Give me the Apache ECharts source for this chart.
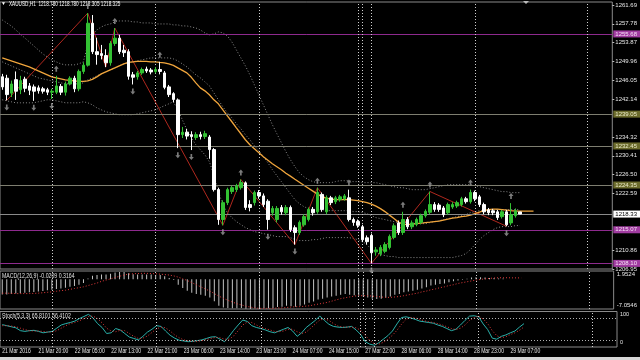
<!DOCTYPE html>
<html><head><meta charset="utf-8">
<script src="https://cdn.jsdelivr.net/npm/echarts@6/dist/echarts.min.js"></script>
<style>html,body{margin:0;padding:0;background:#000;}#c{width:640px;height:360px;}</style>
</head><body><div id="c"></div>
<script>
// ---------- DATA ----------
const symbolTitle = 'XAUUSD,H1  1218.780 1218.780 1218.305 1218.325';
const macdTitle = 'MACD(12,26,9) -0.0209 0.3164';
const stochTitle = 'Stoch(5,3,3) 65.8101 56.4102';

const timeLabels = ['21 Mar 2016','21 Mar 20:00','22 Mar 05:00','22 Mar 13:00','22 Mar 21:00','23 Mar 06:00','23 Mar 14:00','23 Mar 23:00','24 Mar 07:00','24 Mar 15:00','27 Mar 22:00','28 Mar 06:00','28 Mar 14:00','28 Mar 23:00','29 Mar 07:00'];
const timeLabelBars = [0,8,16,24,32,40,48,56,64,72,80,88,96,104,112];
const separatorBars = [11,34,57,79,80,82,105,130];

const priceTicks = [1261.69,1257.78,1253.87,1249.96,1246.05,1242.14,1234.32,1230.41,1226.50,1222.59,1210.86,1206.95];
const macdTicks = [1.9524,0,-7.0546];
const stochTicks = [100,80,20,0];

const purpleLevels = [1255.68,1215.07,1208.10];
const grayLevels = [1239.05,1232.45,1224.35];
const bidPrice = 1218.325;

const opens = [1246.8,1246.5,1243.4,1246.2,1244.1,1246.3,1244.9,1244.7,1244.5,1244.3,
 1244.1,1243.6,1243.6,1244.8,1243.6,1245.3,1246.5,1244.3,1247.9,1249.2,
 1257.9,1252.0,1251.6,1251.2,1249.7,1253.7,1254.8,1252.3,1252.0,1247.2,
 1246.8,1247.6,1248.4,1248.2,1247.9,1248.3,1247.6,1244.7,1243.3,1242.0,
 1234.8,1235.3,1234.8,1234.2,1234.8,1234.4,1234.3,1231.7,1223.4,1217.2,
 1220.7,1223.0,1223.4,1223.8,1224.8,1220.3,1220.7,1222.8,1222.1,1221.0,
 1218.6,1217.2,1219.7,1218.6,1219.7,1215.5,1214.5,1216.1,1217.2,1219.3,
 1218.8,1222.4,1218.8,1221.7,1220.9,1221.3,1221.5,1221.7,1217.2,1216.8,
 1215.7,1213.4,1213.9,1210.5,1210.1,1210.6,1211.4,1213.5,1216.5,1214.5,
 1217.2,1215.7,1216.2,1216.6,1218.0,1218.7,1220.3,1220.2,1219.6,1218.6,
 1219.8,1220.0,1220.3,1221.5,1220.9,1222.8,1221.9,1220.3,1219.2,1219.0,
 1218.8,1217.8,1218.8,1216.5,1218.0,1218.78];
const closes = [1244.7,1243.1,1245.3,1243.8,1246.0,1244.4,1244.0,1243.8,1243.9,1243.8,
 1243.6,1243.8,1244.9,1243.6,1245.3,1246.5,1244.3,1247.9,1249.2,1257.9,
 1252.0,1251.4,1251.2,1249.7,1253.7,1254.8,1252.0,1251.8,1246.9,1246.7,
 1247.6,1248.3,1248.0,1247.8,1248.3,1247.9,1244.6,1243.1,1242.1,1234.8,
 1235.3,1234.5,1234.4,1234.8,1234.4,1235.0,1231.7,1223.4,1217.2,1220.7,
 1223.4,1223.8,1224.2,1224.9,1219.7,1219.7,1222.8,1222.1,1220.3,1217.2,
 1219.5,1219.5,1218.8,1219.7,1215.1,1214.5,1216.6,1217.8,1219.3,1218.6,
 1222.8,1219.3,1221.7,1220.7,1221.7,1221.9,1222.1,1217.2,1216.6,1216.0,
 1213.0,1212.6,1210.3,1210.9,1211.4,1212.0,1213.7,1215.9,1214.5,1217.2,
 1215.7,1216.5,1217.2,1218.0,1218.9,1220.3,1219.3,1219.3,1218.2,1220.3,
 1220.3,1220.7,1221.5,1220.9,1222.8,1221.5,1220.3,1218.8,1218.6,1218.6,
 1217.6,1218.8,1216.1,1218.2,1219.0,1218.325];
const lows = [1244.1,1241.9,1242.6,1242.0,1243.2,1243.6,1243.0,1241.8,1243.3,1243.3,
 1243.0,1242.2,1243.2,1243.0,1242.9,1245.0,1243.6,1243.8,1247.4,1248.9,
 1251.5,1249.3,1250.4,1248.8,1249.1,1253.2,1251.5,1250.9,1246.2,1245.2,
 1246.2,1247.2,1247.6,1247.3,1247.5,1247.3,1244.2,1242.6,1241.5,1232.0,
 1234.1,1233.8,1231.6,1233.7,1233.8,1233.9,1229.8,1223.0,1216.1,1216.0,
 1220.2,1222.5,1222.9,1223.4,1219.2,1218.9,1220.1,1221.5,1219.8,1215.1,
 1218.0,1216.6,1218.2,1218.1,1214.6,1212.0,1214.0,1215.7,1216.8,1218.0,
 1218.4,1218.8,1218.3,1220.2,1220.4,1220.9,1221.1,1216.8,1215.9,1215.5,
 1212.5,1212.0,1208.1,1209.7,1209.6,1210.2,1211.0,1213.1,1214.0,1214.0,
 1215.2,1215.2,1215.8,1216.2,1217.6,1218.3,1218.8,1218.8,1217.7,1218.2,
 1219.4,1219.6,1219.9,1220.5,1220.5,1221.0,1219.8,1218.3,1218.1,1218.1,
 1217.1,1217.4,1215.8,1216.0,1217.6,1218.305];
const highs = [1247.4,1247.2,1246.0,1247.9,1247.0,1246.8,1245.5,1245.2,1245.0,1244.7,
 1244.5,1244.3,1247.0,1245.3,1245.8,1246.9,1247.0,1248.3,1249.8,1260.0,
 1259.6,1254.9,1253.4,1252.5,1254.2,1256.9,1255.5,1253.4,1252.5,1247.8,
 1248.0,1248.7,1248.9,1248.6,1248.8,1249.9,1248.0,1245.1,1243.6,1242.3,
 1236.4,1236.0,1235.5,1235.3,1235.4,1235.6,1234.7,1232.0,1223.8,1221.2,
 1223.8,1224.2,1224.6,1225.5,1225.1,1221.2,1223.2,1223.3,1222.6,1221.4,
 1220.0,1220.0,1220.2,1220.2,1220.1,1216.0,1217.0,1218.3,1219.7,1219.8,
 1223.8,1222.8,1222.2,1222.1,1222.1,1222.3,1222.5,1223.4,1217.6,1217.2,
 1216.1,1213.9,1214.3,1211.5,1211.9,1212.5,1214.1,1216.4,1217.0,1218.8,
 1217.7,1217.0,1217.6,1218.4,1219.3,1223.0,1220.8,1220.6,1220.0,1220.7,
 1220.8,1221.1,1221.9,1221.9,1223.4,1223.2,1222.3,1220.7,1219.6,1219.4,
 1219.2,1219.2,1219.2,1220.6,1219.5,1218.78];

const maLine = [1250.71,1250.40,1250.09,1249.78,1249.47,1249.16,1248.85,1248.44,1248.02,1247.61,
 1247.20,1246.78,1246.57,1246.37,1246.16,1246.06,1245.95,1245.85,1245.85,1245.95,
 1246.26,1246.78,1247.40,1247.82,1248.23,1248.64,1249.06,1249.47,1249.78,1249.89,
 1249.99,1249.99,1249.99,1249.89,1249.89,1249.78,1249.68,1249.47,1249.16,1248.64,
 1248.13,1247.61,1246.68,1245.54,1244.50,1243.88,1243.06,1242.02,1241.19,1239.95,
 1238.71,1237.47,1236.22,1234.98,1233.74,1232.70,1231.88,1231.05,1230.22,1229.50,
 1228.77,1228.15,1227.53,1226.81,1226.19,1225.56,1224.94,1224.32,1223.70,1223.08,
 1222.46,1221.94,1221.63,1221.42,1221.32,1221.32,1221.32,1221.32,1221.22,1221.11,
 1220.91,1220.70,1220.39,1219.97,1219.46,1218.84,1218.11,1217.39,1216.66,1216.25,
 1216.14,1216.25,1216.35,1216.46,1216.56,1216.66,1216.77,1216.87,1217.08,1217.28,
 1217.49,1217.59,1217.80,1217.90,1218.11,1218.42,1218.73,1219.04,1219.25,1219.35,
 1219.35,1219.25,1219.15,1219.04,1218.94,1218.94,1218.94,1218.94,1218.94];

const bbUpper = [1258.58,1257.96,1257.34,1256.51,1255.68,1254.85,1254.03,1253.20,1252.37,1251.54,
 1250.92,1250.30,1249.89,1249.47,1249.27,1249.27,1249.27,1249.47,1249.89,1253.40,
 1255.48,1256.51,1257.13,1257.55,1257.75,1258.17,1258.37,1258.37,1258.37,1258.17,
 1258.17,1257.96,1257.96,1257.96,1257.75,1257.75,1257.75,1257.75,1257.55,1257.55,
 1257.34,1257.34,1257.13,1256.92,1256.51,1255.89,1255.48,1255.68,1256.10,1255.89,
 1255.27,1254.03,1252.37,1250.71,1249.06,1247.20,1245.13,1243.06,1240.99,1238.92,
 1236.85,1234.98,1233.12,1231.26,1229.60,1228.15,1226.91,1226.08,1225.46,1225.05,
 1224.84,1224.84,1224.84,1224.84,1225.05,1225.25,1225.25,1225.25,1225.05,1225.05,
 1224.84,1224.84,1224.84,1224.84,1224.63,1224.43,1224.22,1224.01,1223.80,1223.80,
 1223.60,1223.39,1223.39,1223.39,1223.39,1223.60,1223.80,1224.01,1224.22,1224.43,
 1224.43,1224.43,1224.43,1224.43,1224.43,1224.22,1224.01,1223.80,1223.60,1223.39,
 1223.18,1222.98,1222.98,1222.77,1222.77,1222.77];
const bbMid = [1249.89,1249.47,1249.06,1248.64,1248.23,1247.82,1247.40,1246.99,1246.57,1246.37,
 1246.16,1245.95,1245.75,1245.54,1245.33,1245.33,1245.33,1245.33,1245.54,1246.16,
 1246.57,1246.99,1247.40,1247.82,1248.23,1248.64,1249.06,1249.47,1249.68,1249.89,
 1250.09,1250.30,1250.51,1250.71,1250.71,1250.71,1250.71,1250.71,1250.51,1250.09,
 1249.47,1248.85,1248.02,1247.20,1246.57,1245.75,1244.92,1243.47,1242.02,1240.57,
 1239.33,1238.29,1237.05,1236.02,1234.78,1233.74,1232.50,1231.46,1230.22,1228.98,
 1227.53,1226.29,1225.05,1223.80,1222.56,1221.32,1220.49,1219.87,1219.46,1219.25,
 1219.25,1219.25,1219.04,1219.04,1219.04,1219.04,1219.04,1219.04,1218.84,1218.84,
 1218.63,1218.42,1218.01,1217.59,1217.39,1217.18,1216.97,1216.77,1216.56,1216.56,
 1216.56,1216.35,1216.35,1216.35,1216.35,1216.56,1216.77,1216.97,1217.18,1217.39,
 1217.59,1217.80,1218.01,1218.22,1218.63,1218.84,1219.04,1219.04,1219.25,1219.25,
 1219.25,1219.25,1219.25,1219.25,1219.25,1219.25];
const bbLower = [1242.02,1241.81,1241.61,1241.40,1241.40,1241.40,1241.40,1241.40,1241.61,1241.81,
 1242.02,1242.02,1241.81,1241.61,1241.40,1241.40,1241.40,1241.40,1241.61,1241.40,
 1240.99,1240.36,1239.95,1239.54,1239.33,1239.12,1238.92,1238.92,1238.92,1238.92,
 1239.12,1239.33,1239.54,1239.74,1239.95,1240.36,1240.78,1241.19,1241.61,1239.95,
 1237.88,1235.81,1234.15,1232.70,1231.67,1230.63,1229.19,1226.49,1222.98,1220.28,
 1218.63,1217.59,1216.77,1216.15,1215.52,1215.11,1214.70,1214.49,1214.28,1214.08,
 1213.87,1213.66,1213.66,1213.66,1213.45,1213.04,1212.83,1212.83,1212.83,1213.04,
 1213.04,1213.25,1213.45,1213.45,1213.45,1213.45,1213.45,1213.45,1213.25,1213.04,
 1212.63,1212.01,1210.97,1210.35,1209.94,1209.73,1209.52,1209.52,1209.31,1209.31,
 1209.31,1209.31,1209.31,1209.31,1209.31,1209.31,1209.31,1209.31,1209.31,1209.31,
 1209.31,1209.52,1209.73,1210.14,1210.97,1212.01,1213.04,1213.87,1214.49,1215.11,
 1215.52,1215.73,1215.73,1215.73,1215.94,1215.94];

const zigzagBars = [1,19,23,25,49,53,65,70,82,95,112]; // alternating low / high, starting with a low
const fractalUpBars = [12,19,25,35,53,70,77,89,95,104,113];
const fractalDownBars = [1,7,11,29,39,42,49,59,65,82,112];

const macdHist = [-3.6,-3.6,-3.5,-3.4,-3.3,-3.2,-3.1,-3.0,-2.9,-2.8,
 -2.6,-2.5,-2.3,-2.2,-2.0,-1.8,-1.6,-1.3,-0.9,0.2,
 0.8,1.0,1.1,1.1,1.3,1.6,1.7,1.7,1.4,1.2,
 1.1,1.1,1.1,1.1,1.0,1.0,0.7,0.3,-0.2,-1.3,
 -2.1,-2.7,-3.2,-3.5,-3.7,-3.9,-4.3,-5.2,-6.3,-6.7,
 -6.8,-6.9,-6.9,-6.8,-7.0,-7.05,-6.9,-6.8,-6.8,-6.9,
 -6.8,-6.6,-6.5,-6.3,-6.4,-6.5,-6.3,-6.0,-5.6,-5.3,
 -4.8,-4.6,-4.3,-4.1,-3.9,-3.7,-3.5,-3.7,-3.8,-3.9,
 -4.1,-4.3,-4.6,-4.7,-4.6,-4.4,-4.1,-3.7,-3.5,-3.1,
 -2.9,-2.7,-2.5,-2.2,-1.9,-1.5,-1.3,-1.1,-1.0,-0.7,
 -0.5,-0.3,-0.1,0.1,0.4,0.5,0.5,0.4,0.3,0.3,
 0.2,0.2,0.0,0.0,0.0,-0.0209];
const macdSignal = [-3.3,-3.3,-3.35,-3.4,-3.4,-3.4,-3.4,-3.35,-3.3,-3.2,
 -3.1,-3.0,-2.85,-2.7,-2.6,-2.4,-2.2,-2.0,-1.8,-1.5,
 -1.2,-0.9,-0.5,-0.2,0.1,0.4,0.7,1.0,1.2,1.3,
 1.35,1.4,1.4,1.35,1.3,1.2,1.1,1.0,0.8,0.5,
 0.1,-0.3,-0.8,-1.3,-1.8,-2.3,-2.8,-3.4,-4.0,-4.5,
 -5.0,-5.4,-5.8,-6.1,-6.4,-6.6,-6.8,-6.9,-6.9,-6.9,
 -6.9,-6.8,-6.8,-6.7,-6.6,-6.5,-6.5,-6.4,-6.3,-6.1,
 -5.9,-5.7,-5.5,-5.2,-4.9,-4.6,-4.4,-4.2,-4.0,-3.9,
 -3.9,-3.9,-4.0,-4.1,-4.2,-4.3,-4.3,-4.2,-4.1,-3.9,
 -3.7,-3.5,-3.3,-3.0,-2.8,-2.5,-2.3,-2.0,-1.8,-1.5,
 -1.3,-1.0,-0.8,-0.6,-0.4,-0.2,-0.05,0.1,0.2,0.3,
 0.35,0.35,0.35,0.33,0.32,0.3164];

const stochMain = [63,60,57,54,46,44,46,47,44,40,
 42,44,53,62,66,69,73,80,86,92,
 82,66,55,38,40,52,48,38,28,24,
 20,30,42,50,60,58,45,33,25,19,
 17,15,16,18,20,24,28,29,22,15,
 30,47,62,76,72,60,55,52,48,43,
 40,45,50,55,45,30,40,55,65,75,
 87,75,64,58,56,55,56,58,48,35,
 15,8,5,12,22,32,45,65,83,85,
 82,78,73,71,69,67,62,58,52,46,
 50,62,75,87,88,85,65,49,25,22,
 30,34,40,45,56,65.8101];
const stochSignal = [60,60,59,57,53,49,46,45,45,44,
 42,42,46,53,60,66,69,74,80,86,
 87,80,68,53,45,43,47,46,38,30,
 24,25,31,41,51,56,54,45,34,26,
 20,17,16,16,18,21,24,27,26,22,
 22,31,46,62,70,69,62,56,52,48,
 44,43,45,50,50,43,38,42,53,65,
 76,79,75,66,59,56,56,56,54,47,
 33,19,9,8,13,22,33,47,64,78,
 83,82,78,74,71,69,66,62,57,52,
 49,53,62,75,83,87,79,66,46,32,
 26,29,35,40,47,56.4102];

// ---------- BUILD ----------
const SLOTS = 136;
const cats = Array.from({length: SLOTS}, (_, i) => String(i));
const candleData = opens.map((o, i) => [o, closes[i], lows[i], highs[i]]);
const zz = new Array(SLOTS).fill(null);
zigzagBars.forEach((b, k) => { zz[b] = (k % 2 === 0) ? lows[b] : highs[b]; });

const FONT = "'Liberation Sans',sans-serif";
const LBL = '#e6e6e6';
const BORDER = '#8a8a8a';
const SEP = '#d0d0d0';
const PURPLE = '#8e2a8e';
const trunc2 = v => (Math.floor(v * 100 + 1e-6) / 100).toFixed(2);

const gridBase = {left: -1.77, right: 23, show: true, borderColor: BORDER, borderWidth: 1, backgroundColor: 'transparent'};
const xBase = (gi) => ({
  type: 'category', gridIndex: gi, data: cats, boundaryGap: true,
  axisLine: {show: false}, axisTick: {show: false}, splitLine: {show: false}, axisLabel: {show: false}
});
const sepLines = separatorBars.map(b => ({xAxis: b, lineStyle: {color: SEP, type: [1, 2], width: 1}, label: {show: false}}));

const upArrow = 'path://M3,0 L6,4 L4,4 L4,8 L2,8 L2,4 L0,4 Z';
const downArrow = 'path://M3,8 L6,4 L4,4 L4,0 L2,0 L2,4 L0,4 Z';

const baseGraphics = [
  {type: 'text', x: 1, y: 1, style: {text: '\u25BC', fill: '#ffffff', font: '5px sans-serif'}},
  {type: 'text', x: 9, y: 1, scaleX: 0.72, style: {text: symbolTitle, fill: '#ffffff', font: '6.5px ' + FONT}},
  {type: 'text', x: 2, y: 273, scaleX: 0.8, style: {text: macdTitle, fill: '#e0e0e0', font: '6.5px ' + FONT}},
  {type: 'text', x: 2, y: 313, scaleX: 0.8, style: {text: stochTitle, fill: '#e0e0e0', font: '6.5px ' + FONT}},
  {type: 'rect', shape: {x: 0, y: 357, width: 640, height: 3}, style: {fill: '#d6d6d6'}},
  {type: 'polygon', shape: {points: [[523, 1], [529, 1], [526, 4]]}, style: {fill: '#bbbbbb'}}
];

const axisLabelFont = "'Liberation Sans',sans-serif";
const option = {
  backgroundColor: '#000000',
  animation: false,
  grid: [
    Object.assign({top: 2, height: 267}, gridBase),
    Object.assign({top: 271, height: 38}, gridBase),
    Object.assign({top: 311.5, height: 35.5}, gridBase)
  ],
  xAxis: [xBase(0), xBase(1), xBase(2)],
  yAxis: [
    {type: 'value', gridIndex: 0, position: 'right', min: 1206.94, max: 1262.30,
     splitLine: {show: false}, axisLine: {show: false},
     axisTick: {show: true, length: 2, customValues: priceTicks, lineStyle: {color: '#bbbbbb'}},
     axisLabel: {customValues: priceTicks, showMinLabel: true, showMaxLabel: true, formatter: v => v.toFixed(2), color: LBL, fontSize: 6, fontFamily: axisLabelFont, margin: 3}},
    {type: 'value', gridIndex: 1, position: 'right', min: -7.0547, max: 1.9525,
     splitLine: {show: false}, axisLine: {show: false}, axisTick: {show: false},
     axisLabel: {customValues: macdTicks, showMinLabel: true, showMaxLabel: true, color: LBL, fontSize: 6, fontFamily: axisLabelFont, margin: 3,
       formatter: v => v === 0 ? '{m|0.00}' : (v > 0 ? '{dn|' + v.toFixed(4) + '}' : '{up|' + v.toFixed(4) + '}'),
       rich: {dn: {padding: [7, 0, 0, 0], fontSize: 6, color: LBL}, up: {padding: [0, 0, 7, 0], fontSize: 6, color: LBL}, m: {padding: [2, 0, 0, 0], fontSize: 6, color: LBL}}}},
    {type: 'value', gridIndex: 2, position: 'right', min: 0, max: 100,
     splitLine: {show: false}, axisLine: {show: false}, axisTick: {show: false},
     axisLabel: {customValues: stochTicks, showMinLabel: true, showMaxLabel: true, color: LBL, fontSize: 5.5, fontFamily: axisLabelFont, margin: 3,
       formatter: v => v === 100 ? '{dn|100}' : v === 80 ? '{u1|80}' : v === 0 ? '{up|0}' : String(v),
       rich: {dn: {padding: [5, 0, 0, 0], fontSize: 5.5, color: LBL}, u1: {padding: [0, 0, 3, 0], fontSize: 5.5, color: LBL}, up: {padding: [0, 0, 9, 0], fontSize: 5.5, color: LBL}}}}
  ],
  graphic: baseGraphics,
  series: [
    {type: 'line', xAxisIndex: 0, yAxisIndex: 0, data: bbUpper, showSymbol: false, silent: true,
     lineStyle: {color: '#8c8c8c', width: 1, type: [1, 2]}, z: 2},
    {type: 'line', xAxisIndex: 0, yAxisIndex: 0, data: bbMid, showSymbol: false, silent: true,
     lineStyle: {color: '#8c8c8c', width: 1, type: [1, 2]}, z: 2,
     markLine: {silent: true, symbol: ['none', 'none'], animation: false,
       label: {show: true, position: 'end', distance: 1, fontSize: 6, fontFamily: axisLabelFont, padding: [1, 3, 0, 2], formatter: p => trunc2(p.value)},
       data: [].concat(
         purpleLevels.map(v => ({yAxis: v, lineStyle: {color: PURPLE, width: 1, type: 'solid'}, label: {backgroundColor: '#a13ca1', color: '#f6e0f6'}})),
         grayLevels.map(v => ({yAxis: v, lineStyle: {color: '#7e7e70', width: 1, type: 'solid'}, label: {backgroundColor: '#6b6b2c', color: '#ecebc8'}})),
         [{yAxis: bidPrice, lineStyle: {color: '#8a8a8a', width: 1, type: 'solid'}, label: {backgroundColor: '#ffffff', color: '#000000'}}],
         sepLines
       )}},
    {type: 'line', xAxisIndex: 0, yAxisIndex: 0, data: bbLower, showSymbol: false, silent: true,
     lineStyle: {color: '#8c8c8c', width: 1, type: [1, 2]}, z: 2},
    {type: 'line', xAxisIndex: 0, yAxisIndex: 0, data: zz, connectNulls: true, showSymbol: false, silent: true,
     lineStyle: {color: '#b0281e', width: 1}, z: 3},
    {type: 'line', xAxisIndex: 0, yAxisIndex: 0, data: maLine, showSymbol: false, silent: true,
     lineStyle: {color: '#f0a53c', width: 1.3}, z: 4},
    {type: 'candlestick', xAxisIndex: 0, yAxisIndex: 0, data: candleData, barWidth: 3, silent: true, z: 5,
     itemStyle: {color: '#33c233', color0: '#ffffff', borderColor: '#33c233', borderColor0: '#ffffff', borderWidth: 1}},
    {type: 'scatter', xAxisIndex: 0, yAxisIndex: 0, data: fractalUpBars.map(b => [b, highs[b]]), symbol: upArrow,
     symbolSize: [5, 6], symbolOffset: [0, -7], itemStyle: {color: '#9a9a9a'}, silent: true, z: 6},
    {type: 'scatter', xAxisIndex: 0, yAxisIndex: 0, data: fractalDownBars.map(b => [b, lows[b]]), symbol: downArrow,
     symbolSize: [5, 6], symbolOffset: [0, 7], itemStyle: {color: '#9a9a9a'}, silent: true, z: 6},
    {type: 'bar', xAxisIndex: 1, yAxisIndex: 1, data: macdHist, barWidth: 1, silent: true,
     itemStyle: {color: '#c4c4c4'},
     markLine: {silent: true, symbol: ['none', 'none'], animation: false, data: sepLines}},
    {type: 'line', xAxisIndex: 1, yAxisIndex: 1, data: macdSignal, showSymbol: false, silent: true,
     lineStyle: {color: '#e03a3a', width: 1, type: [1, 2]}},
    {type: 'line', xAxisIndex: 2, yAxisIndex: 2, data: stochMain, showSymbol: false, silent: true,
     lineStyle: {color: '#2ab0aa', width: 1},
     markLine: {silent: true, symbol: ['none', 'none'], animation: false,
       data: [].concat([{yAxis: 80}, {yAxis: 20}].map(d => Object.assign(d, {lineStyle: {color: '#b0b0b0', type: [1, 2], width: 1}, label: {show: false}})), sepLines)}},
    {type: 'line', xAxisIndex: 2, yAxisIndex: 2, data: stochSignal, showSymbol: false, silent: true,
     lineStyle: {color: '#e03a3a', width: 1, type: [1, 2]}}
  ]
};
const chart = echarts.init(document.getElementById('c'), null, {width: 640, height: 360});
chart.setOption(option);
// time labels placed at their bars through the category axis scale
const timeGraphics = timeLabelBars.map((b, k) => ({
  type: 'text', x: chart.convertToPixel({xAxisIndex: 2}, cats[b]), y: 348, scaleX: 0.78,
  style: {text: timeLabels[k], fill: LBL, font: '6.5px ' + FONT, verticalAlign: 'top'}
}));
chart.setOption({graphic: baseGraphics.concat(timeGraphics)});
</script></body></html>
